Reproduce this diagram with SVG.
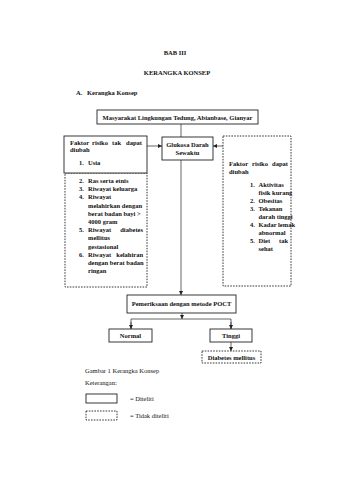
<svg xmlns="http://www.w3.org/2000/svg" width="339" height="480" viewBox="0 0 339 480">
<style>
text{font-family:"Liberation Serif","Times New Roman",serif;font-size:6.5px;fill:#111}
.b{font-weight:bold}
.c{text-anchor:middle}
.e{text-anchor:end}
.box{fill:#fff;stroke:#222;stroke-width:0.9}
.dash{fill:none;stroke:#222;stroke-width:0.9;stroke-dasharray:1.6 1.2}
.ln{fill:none;stroke:#222;stroke-width:0.7}
</style>
<defs>
<marker id="ah" viewBox="0 0 6 6" refX="6" refY="3" markerWidth="4" markerHeight="4" orient="auto" markerUnits="userSpaceOnUse">
<path d="M0,0 L6,3 L0,6 z" fill="#222"/>
</marker>
</defs>
<rect width="339" height="480" fill="#fff"/>
<g id="titles">
<text class="b c" x="175" y="55">BAB III</text>
<text class="b c" x="177" y="75">KERANGKA KONSEP</text>
<text class="b" x="76" y="95">A.</text>
<text class="b" x="87" y="95">Kerangka Konsep</text>
</g>
<g id="connectors">
<line class="ln" x1="181" y1="124" x2="181" y2="137"/>
<line class="ln" x1="147" y1="146" x2="162" y2="146" marker-end="url(#ah)"/>
<line class="ln" x1="223" y1="146" x2="213" y2="146" marker-end="url(#ah)"/>
<line class="ln" x1="181" y1="160" x2="181" y2="295" marker-end="url(#ah)"/>
<line class="ln" x1="182" y1="313" x2="182" y2="319" marker-end="url(#ah)"/>
<polyline class="ln" points="131,329 131,319 231,319 231,329"/>
<line class="ln" x1="131" y1="322" x2="131" y2="329" marker-end="url(#ah)"/>
<line class="ln" x1="231" y1="322" x2="231" y2="329" marker-end="url(#ah)"/>
<line class="ln" x1="231" y1="342" x2="231" y2="351" marker-end="url(#ah)"/>
</g>
<g id="n-masyarakat">
<rect class="box" x="97" y="110" width="161" height="14"/>
<text class="b c" x="177.5" y="119.5">Masyarakat Lingkungan Tedung, Abianbase, Gianyar</text>
</g>
<g id="n-tidak-diubah">
<rect class="dash" x="65" y="173" width="82" height="114"/>
<rect class="box" x="64" y="136" width="83" height="37"/>
<text class="b" x="70" y="145">Faktor</text>
<text class="b" x="92" y="145">risiko</text>
<text class="b" x="112" y="145">tak</text>
<text class="b e" x="142" y="145">dapat</text>
<text class="b" x="70" y="152">diubah</text>
<text class="b" x="79" y="165">1.</text><text class="b" x="88" y="165">Usia</text>
<text class="b" x="79" y="183">2.</text><text class="b" x="88" y="183">Ras serta etnis</text>
<text class="b" x="79" y="191.2">3.</text><text class="b" x="88" y="191.2">Riwayat keluarga</text>
<text class="b" x="79" y="199.4">4.</text><text class="b" x="88" y="199.4">Riwayat</text>
<text class="b" x="88" y="207.6">melahirkan dengan</text>
<text class="b" x="88" y="215.8">berat badan bayi &gt;</text>
<text class="b" x="88" y="224">4000 gram</text>
<text class="b" x="79" y="232.2">5.</text><text class="b" x="88" y="232.2">Riwayat</text><text class="b e" x="143" y="232.2">diabetes</text>
<text class="b" x="88" y="240.4">mellitus</text>
<text class="b" x="88" y="248.6">gestasional</text>
<text class="b" x="79" y="256.8">6.</text><text class="b" x="88" y="256.8">Riwayat</text><text class="b e" x="143" y="256.8">kelahiran</text>
<text class="b" x="88" y="265">dengan berat badan</text>
<text class="b" x="88" y="273.2">ringan</text>
</g>
<g id="n-glukosa">
<rect class="box" x="162" y="137" width="51" height="23"/>
<text class="b c" x="187.5" y="146.5">Glukosa Darah</text>
<text class="b c" x="187.5" y="154.5">Sewaktu</text>
</g>
<g id="n-dapat-diubah">
<rect class="dash" x="223" y="136" width="68" height="150"/>
<text class="b" x="229" y="166">Faktor</text>
<text class="b" x="252" y="166">risiko</text>
<text class="b e" x="288" y="166">dapat</text>
<text class="b" x="229" y="174">diubah</text>
<text class="b" x="250" y="187">1.</text><text class="b" x="258.5" y="187">Aktivitas</text>
<text class="b" x="258.5" y="195">fisik kurang</text>
<text class="b" x="250" y="203">2.</text><text class="b" x="258.5" y="203">Obesitas</text>
<text class="b" x="250" y="211">3.</text><text class="b" x="258.5" y="211">Tekanan</text>
<text class="b" x="258.5" y="219">darah tinggi</text>
<text class="b" x="250" y="227">4.</text><text class="b" x="258.5" y="227">Kadar lemak</text>
<text class="b" x="258.5" y="235">abnormal</text>
<text class="b" x="250" y="243">5.</text><text class="b" x="258.5" y="243">Diet</text><text class="b e" x="288" y="243">tak</text>
<text class="b" x="258.5" y="251">sehat</text>
</g>
<g id="n-poct">
<rect class="box" x="127" y="295" width="109" height="18"/>
<text class="b c" x="181.5" y="306">Pemeriksaan dengan metode POCT</text>
</g>
<g id="n-normal">
<rect class="box" x="109" y="329" width="43" height="13"/>
<text class="b c" x="130.5" y="338">Normal</text>
</g>
<g id="n-tinggi">
<rect class="box" x="210" y="329" width="42" height="13"/>
<text class="b c" x="231" y="338">Tinggi</text>
</g>
<g id="n-dm">
<rect class="dash" x="202" y="351" width="59" height="12"/>
<text class="b c" x="231.5" y="359.5">Diabetes mellitus</text>
</g>
<g id="legend">
<text x="85" y="373">Gambar 1 Kerangka Konsep</text>
<text x="85" y="385">Keterangan:</text>
<rect class="box" x="86" y="394" width="31" height="9"/>
<text x="130" y="400.5">= Diteliti</text>
<rect class="dash" x="86" y="411" width="31" height="9"/>
<text x="130" y="418">= Tidak diteliti</text>
</g>
</svg>
